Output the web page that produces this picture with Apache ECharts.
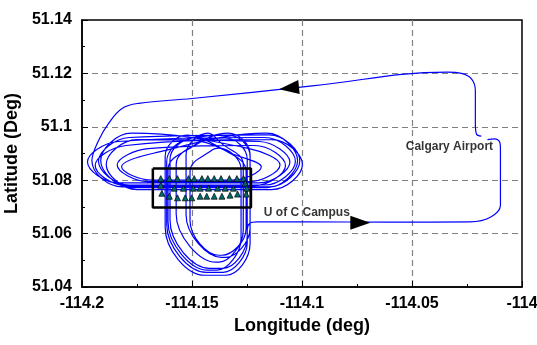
<!DOCTYPE html>
<html>
<head>
<meta charset="utf-8">
<script src="https://cdn.jsdelivr.net/npm/echarts@6/dist/echarts.min.js"></script>
<style>
html,body{margin:0;padding:0;background:#fff;}
#chart{width:537px;height:345px;}
</style>
</head>
<body>
<div id="chart"></div>
<script>
// ---- axis settings / tick labels ----
var xMin = -114.2, xMax = -114.0, xStep = 0.05;
var yMin = 51.04, yMax = 51.14, yStep = 0.02;
var xTickLabels = ['-114.2', '-114.15', '-114.1', '-114.05', '-114'];
var yTickLabels = ['51.04', '51.06', '51.08', '51.1', '51.12', '51.14'];

// ---- flight track (longitude, latitude) ----
var trackLon = [
  // departure from airport, return leg along the north
  -114.0185, -114.0207, -114.0212, -114.0212, -114.0228, -114.0275, -114.0339, -114.0953, -114.1500, -114.1742, -114.1818, -114.1879, -114.1924,
  // east-west loops
  -114.1955, -114.1815, -114.1150, -114.1010, -114.1150,
  -114.1785, -114.1925, -114.1785, -114.1170, -114.1030, -114.1170,
  -114.1835, -114.1975, -114.1835, -114.1195, -114.1055, -114.1195,
  -114.1750, -114.1890, -114.1750, -114.1138, -114.0998, -114.1138,
  -114.1800, -114.1940, -114.1800, -114.1215, -114.1075, -114.1215,
  -114.1700, -114.1840, -114.1700, -114.1240, -114.1100, -114.1240,
  -114.1775, -114.1915, -114.1775, -114.1160, -114.1020, -114.1160,
  -114.1680, -114.1820, -114.1680, -114.1320, -114.1185, -114.1320,
  // north-south loops
  -114.1522, -114.1622, -114.1622, -114.1442, -114.1346, -114.1236, -114.1236, -114.1336,
  -114.1500, -114.1600, -114.1600, -114.1420, -114.1359, -114.1249, -114.1249, -114.1349,
  -114.1472, -114.1572, -114.1572, -114.1392, -114.1377, -114.1267, -114.1267, -114.1367,
  -114.1427, -114.1527, -114.1527, -114.1367, -114.1346, -114.1236, -114.1236, -114.1336,
  -114.1509, -114.1609, -114.1609, -114.1429, -114.1387, -114.1277, -114.1277, -114.1377,
  -114.1409, -114.1509, -114.1509, -114.1379, -114.1364, -114.1254, -114.1254, -114.1354,
  -114.1515, -114.1615, -114.1615, -114.1435, -114.1359, -114.1249, -114.1249, -114.1238, -114.1205,
  // campus to airport
  -114.1000, -114.0600, -114.0235, -114.0144, -114.0098, -114.0098, -114.0100, -114.0125, -114.0157
];
var trackLat = [
  51.0965, 51.0973, 51.1010, 51.1135, 51.1178, 51.1200, 51.1205, 51.1153, 51.1106, 51.1088, 51.1069, 51.1013, 51.0950,
  51.0873, 51.0775, 51.0775, 51.0873, 51.0970,
  51.0960, 51.0871, 51.0782, 51.0782, 51.0871, 51.0960,
  51.0945, 51.0868, 51.0790, 51.0790, 51.0868, 51.0945,
  51.0952, 51.0859, 51.0765, 51.0765, 51.0859, 51.0952,
  51.0930, 51.0855, 51.0780, 51.0780, 51.0855, 51.0930,
  51.0918, 51.0857, 51.0795, 51.0795, 51.0857, 51.0918,
  51.0976, 51.0874, 51.0772, 51.0772, 51.0874, 51.0976,
  51.0900, 51.0850, 51.0800, 51.0800, 51.0850, 51.0900,
  51.0969, 51.0889, 51.0624, 51.0444, 51.0444, 51.0564, 51.0889, 51.0969,
  51.0958, 51.0878, 51.0650, 51.0470, 51.0470, 51.0590, 51.0878, 51.0958,
  51.0939, 51.0859, 51.0673, 51.0493, 51.0493, 51.0613, 51.0859, 51.0939,
  51.0976, 51.0896, 51.0671, 51.0511, 51.0511, 51.0621, 51.0896, 51.0976,
  51.0920, 51.0840, 51.0643, 51.0463, 51.0463, 51.0583, 51.0840, 51.0920,
  51.0913, 51.0833, 51.0649, 51.0519, 51.0519, 51.0619, 51.0833, 51.0913,
  51.0950, 51.0870, 51.0635, 51.0455, 51.0455, 51.0565, 51.0615, 51.0638, 51.0644,
  51.0644, 51.0643, 51.0644, 51.0661, 51.0706, 51.0913, 51.0940, 51.0955, 51.0952
];

// ---- test area box corners ----
var boxLon = [-114.1678, -114.1232, -114.1232, -114.1678, -114.1678];
var boxLat = [51.0844, 51.0844, 51.0698, 51.0698, 51.0844];

// ---- ground points (triangles) ----
var ptLon = [
  -114.1642, -114.1603, -114.1566, -114.1516, -114.1490, -114.1455, -114.1428, -114.1399, -114.1368, -114.1330, -114.1296, -114.1266,
  -114.1642, -114.1581, -114.1539, -114.1494, -114.1463, -114.1425, -114.1384, -114.1349, -114.1312, -114.1258, -114.1251,
  -114.1637, -114.1603, -114.1566, -114.1531, -114.1501, -114.1463, -114.1433, -114.1399, -114.1364, -114.1327, -114.1293, -114.1254
];
var ptLat = [
  51.0806, 51.0806, 51.0806, 51.0806, 51.0806, 51.0806, 51.0806, 51.0806, 51.0806, 51.0806, 51.0806, 51.0806,
  51.0781, 51.0770, 51.0770, 51.0770, 51.0770, 51.0770, 51.0770, 51.0770, 51.0770, 51.0789, 51.0770,
  51.0751, 51.0740, 51.0734, 51.0734, 51.0734, 51.0740, 51.0740, 51.0740, 51.0740, 51.0744, 51.0748, 51.0748
];

// ---- direction arrows ----
var arrowLon = [-114.1059, -114.0735];
var arrowLat = [51.1145, 51.0641];
var arrowDir = ['left', 'right'];

// ---- annotations ----
var noteText = ['Calgary Airport', 'U of C Campus'];
var noteLon = [-114.0330, -114.0978];
var noteLat = [51.0924, 51.0679];

function zip(a, b) { return a.map(function (v, i) { return [v, b[i]]; }); }

var FONT = "'Liberation Sans', Arial, sans-serif";
var chart = echarts.init(document.getElementById('chart'), null, { renderer: 'canvas' });

chart.setOption({
  animation: false,
  backgroundColor: '#fff',
  grid: {
    left: 82, right: 15, top: 20, bottom: 58, containLabel: false, outerBoundsMode: 'none',
    show: true, borderColor: '#000', borderWidth: 1.5, backgroundColor: 'transparent'
  },
  xAxis: {
    type: 'value', min: xMin, max: xMax, interval: xStep,
    name: 'Longitude (deg)', nameLocation: 'middle', nameGap: 30,
    nameTextStyle: { fontFamily: FONT, fontWeight: 'bold', fontSize: 18, color: '#000' },
    axisLine: { show: true, onZero: false, lineStyle: { color: '#000', width: 1.5 } },
    axisTick: { show: true, inside: true, length: 6, lineStyle: { color: '#000', width: 1 } },
    minorTick: { show: true, splitNumber: 2, length: 3, lineStyle: { color: '#000', width: 1 } },
    axisLabel: {
      margin: 9, fontFamily: FONT, fontWeight: 'bold', fontSize: 16, color: '#000', hideOverlap: false,
      formatter: function (v) { return xTickLabels[Math.round((v - xMin) / xStep)]; }
    },
    splitLine: { show: true, showMinLine: false, showMaxLine: false, lineStyle: { color: '#808080', width: 1.2, type: [6, 4] } }
  },
  yAxis: {
    type: 'value', min: yMin, max: yMax, interval: yStep,
    name: 'Latitude (Deg)', nameLocation: 'middle', nameGap: 52, nameRotate: 90,
    nameTextStyle: { fontFamily: FONT, fontWeight: 'bold', fontSize: 18, color: '#000' },
    axisLine: { show: true, onZero: false, lineStyle: { color: '#000', width: 1.5 } },
    axisTick: { show: true, inside: true, length: 6, lineStyle: { color: '#000', width: 1 } },
    minorTick: { show: true, splitNumber: 2, length: 3, lineStyle: { color: '#000', width: 1 } },
    axisLabel: {
      margin: 10, fontFamily: FONT, fontWeight: 'bold', fontSize: 16, color: '#000', hideOverlap: false,
      formatter: function (v) { return yTickLabels[Math.round((v - yMin) / yStep)]; }
    },
    splitLine: { show: true, showMinLine: false, showMaxLine: false, lineStyle: { color: '#808080', width: 1.2, type: [6, 4] } }
  },
  series: [
    {
      type: 'line', data: zip(trackLon, trackLat), smooth: 0.4, showSymbol: false, symbol: 'none',
      lineStyle: { color: '#0000ff', width: 1.2 }, z: 2, silent: true
    },
    {
      type: 'line', data: zip(boxLon, boxLat), smooth: false, showSymbol: false, symbol: 'none',
      lineStyle: { color: '#000', width: 2.5 }, z: 3, silent: true
    },
    {
      type: 'scatter', data: zip(ptLon, ptLat), symbol: 'triangle', symbolSize: 6,
      itemStyle: { color: '#006b6b', borderColor: '#000', borderWidth: 0.7, opacity: 1 }, z: 4, silent: true
    },
    {
      type: 'scatter', symbol: 'triangle', symbolSize: [14, 20],
      data: arrowLon.map(function (v, i) {
        return { value: [v, arrowLat[i]], symbolRotate: arrowDir[i] === 'left' ? 96 : -90 };
      }),
      itemStyle: { color: '#000', opacity: 1 }, z: 5, silent: true
    },
    {
      type: 'scatter', symbolSize: 0,
      data: noteText.map(function (t, i) { return { name: t, value: [noteLon[i], noteLat[i]] }; }),
      label: { show: true, position: 'inside', formatter: '{b}', fontFamily: FONT, fontWeight: 'bold', fontSize: 12, color: '#000' },
      z: 6, silent: true
    }
  ]
});
</script>
</body>
</html>
